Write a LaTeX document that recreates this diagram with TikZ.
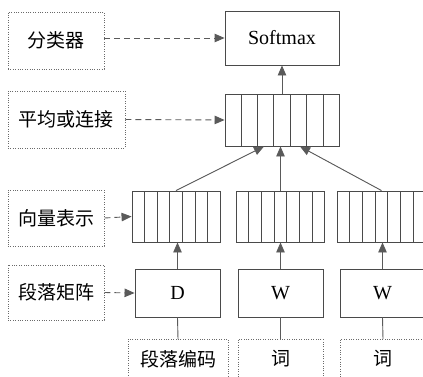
\documentclass[tikz,border=0pt]{standalone}
\usepackage{fontspec}
\setmainfont{Liberation Serif}
\newfontfamily\cjk{Noto Sans CJK SC}
\usetikzlibrary{arrows.meta,calc}
\definecolor{boxc}{HTML}{4A4A4A}
\definecolor{arrc}{HTML}{5A5A5A}
\definecolor{dotc}{HTML}{6A6A6A}
\tikzset{
  lbl/.style={draw=dotc,line width=0.8pt,dash pattern=on 1pt off 1.4pt,minimum height=#1,inner sep=0pt,font=\cjk\fontsize{19}{21}\selectfont},
  lbl/.default=57pt,
  solidbox/.style={draw=boxc,line width=0.9pt,inner sep=0pt,font=\fontsize{20}{23}\selectfont},
  cellbar/.style={draw=boxc,line width=0.9pt,inner sep=0pt,minimum width=88pt,minimum height=51pt},
  tip/.style={-{Triangle[length=10pt,width=8.5pt]}},
  uparrow/.style={tip,draw=arrc,line width=0.9pt,fill=arrc},
  dasharrow/.style={tip,draw=arrc,line width=0.9pt,dash pattern=on 6pt off 4pt},
  plainline/.style={draw=arrc,line width=0.9pt},
  intext/.style={font=\cjk\fontsize{19}{21}\selectfont,inner sep=0pt}
}
\newcommand{\mycells}[1]{%
  \foreach \i in {1,...,6}{%
    \draw[boxc,line width=0.9pt] ($(#1.south west)!\i/7!(#1.south east)$) -- ($(#1.north west)!\i/7!(#1.north east)$);}}
\begin{document}
\begin{tikzpicture}[x=1pt,y=-1pt]
\useasboundingbox (0,0) rectangle (423,376);
% left labels
\node[lbl=57pt,minimum width=96pt] (cls) at (56,40.5) {分类器};
\node[lbl=57pt,minimum width=117pt] (avgl) at (66.5,119.5) {平均或连接};
\node[lbl=56pt,minimum width=96pt] (vecl) at (56,218) {向量表示};
\node[lbl=55pt,minimum width=96pt] (matl) at (56,292.5) {段落矩阵};
% softmax
\node[solidbox,minimum width=114pt,minimum height=54pt] (soft) at (282,38) {Softmax};
% averaging bar
\node[cellbar,minimum width=114pt,minimum height=52pt] (avg) at (282,120) {};
\mycells{avg}
% vector bars
\node[cellbar] (vb1) at (176,216.5) {};
\node[cellbar] (vb2) at (280.5,216.5) {};
\node[cellbar] (vb3) at (381.5,216.5) {};
\mycells{vb1}\mycells{vb2}\mycells{vb3}
% matrices
\node[solidbox,minimum width=85pt,minimum height=48pt] (D) at (177.5,293) {D};
\node[solidbox,minimum width=85pt,minimum height=48pt] (W1) at (280.5,293) {W};
\node[solidbox,minimum width=85pt,minimum height=48pt] (W2) at (382.5,293) {W};
% inputs
\node[lbl=43pt,minimum width=100pt,anchor=north] (in1) at (178,339) {};
\node[lbl=43pt,minimum width=85pt,anchor=north] (in2) at (280.5,339) {};
\node[lbl=43pt,minimum width=85pt,anchor=north] (in3) at (383,339) {};
\node[intext] (t1) at (178,359) {段落编码};
\node[intext] (t2) at (280.5,359) {词};
\node[intext] (t3) at (383,359) {词};
% connectors
\draw[plainline] (in1.north) -- (D.south);
\draw[plainline] (in2.north) -- (W1.south);
\draw[plainline] (in3.north) -- (W2.south);
\draw[uparrow] (D.north) -- (D.north |- vb1.south);
\draw[uparrow] (W1.north) -- (W1.north |- vb2.south);
\draw[uparrow] (W2.north) -- (W2.north |- vb3.south);
\draw[uparrow] (vb1.north) -- ($(avg.south)+(-18,0)$);
\draw[uparrow] (vb2.north) -- (vb2.north |- avg.south);
\draw[uparrow] (vb3.north) -- ($(avg.south)+(18,0)$);
\draw[uparrow] (avg.north) -- (soft.south);
% dashed
\draw[dasharrow] (soft.west -| cls.east) -- (soft.west);
\draw[dasharrow] (avgl.east) -- (avg.west);
\draw[dasharrow] (vecl.east) -- (vb1.west);
\draw[dasharrow] (matl.east) -- (D.west);
\end{tikzpicture}
\end{document}
